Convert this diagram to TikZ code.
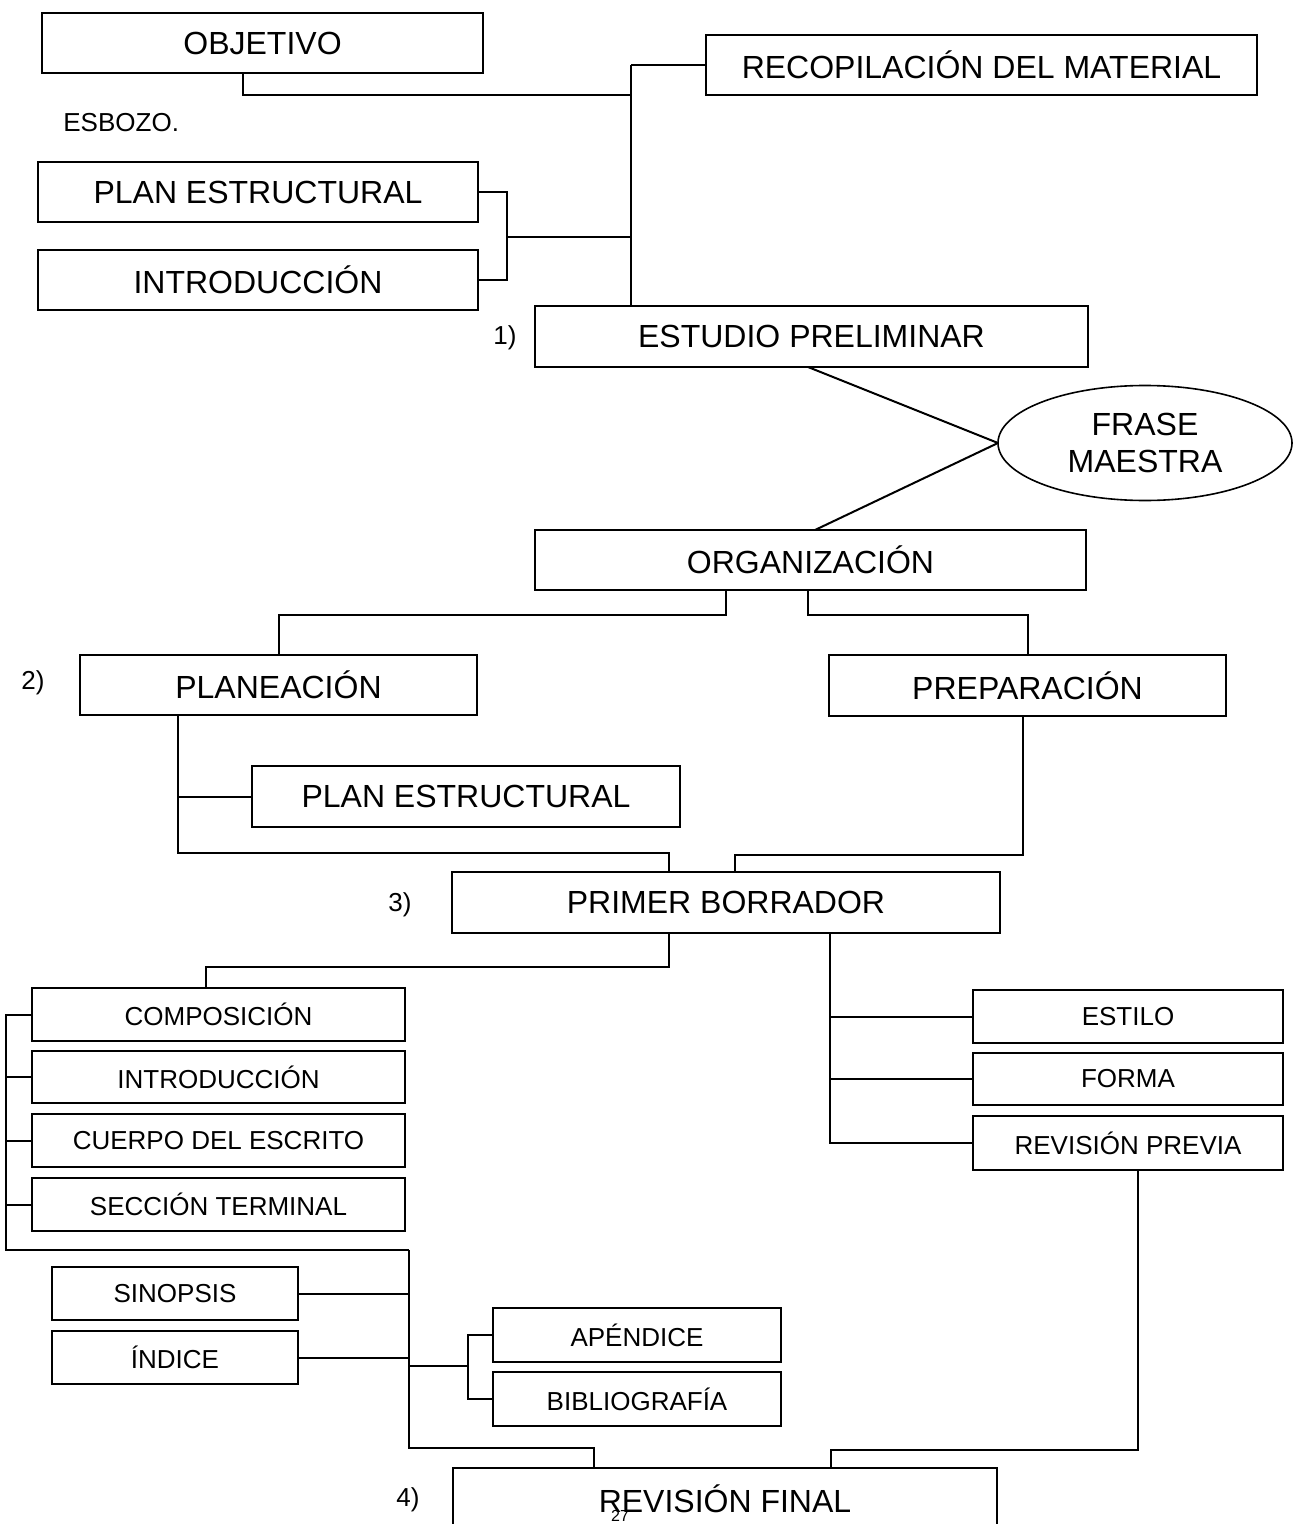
\documentclass[tikz,border=0pt]{standalone}
\usepackage{fontspec}
\setmainfont{Liberation Sans}
\usetikzlibrary{shapes.geometric,calc}
\tikzset{
  sz/.style 2 args={minimum width={#1*0.5pt}, minimum height={#2*0.5pt}},
  bigbox/.style={draw, rectangle, line width=1pt, inner sep=0pt, outer sep=0pt, font=\fontsize{16}{19}\selectfont},
  smallbox/.style={draw, rectangle, line width=1pt, inner sep=0pt, outer sep=0pt, font=\fontsize{13}{15}\selectfont},
  lbl/.style={inner sep=0pt, font=\fontsize{13}{15}\selectfont},
  conn/.style={line width=1pt},
}
\begin{document}
\begin{tikzpicture}[x=0.5pt,y=-0.5pt]
\useasboundingbox (0,0) rectangle (1294,1524);
% column helper coordinates
\foreach \xx in {6,178,206,243,409,468,507,594,631,669,726,735,808,815,830,831,1023,1138}
  {\coordinate (c\xx) at (\xx,0);}

% top part
\node[bigbox, sz={441}{60}] (obj) at (262.5,43) {OBJETIVO};
\node[bigbox, sz={551}{60}] (recop) at (981.5,65) {RECOPILACIÓN DEL MATERIAL};
\node[lbl, anchor=west] (esbozo) at (63,123) {ESBOZO.};
\node[bigbox, sz={440}{60}] (plan1) at (258,192) {PLAN ESTRUCTURAL};
\node[bigbox, sz={440}{60}] (intro1) at (258,280) {INTRODUCCIÓN};
\node[bigbox, sz={553}{61}] (estudio) at (811.5,336.5) {ESTUDIO PRELIMINAR};
\node[lbl] (l1) at (505,338) {1)};
\node[draw, ellipse, line width=0.8pt, inner sep=0pt, outer sep=0pt, minimum width=147pt, minimum height=57.5pt, align=center, font=\fontsize{16}{18.5}\selectfont] (frase) at (1145,443) {FRASE\\MAESTRA};
\node[bigbox, sz={551}{60}] (org) at (810.5,560) {ORGANIZACIÓN};

% middle part
\node[bigbox, sz={397}{60}] (planea) at (278.5,685) {PLANEACIÓN};
\node[lbl] (l2) at (33,683) {2)};
\node[bigbox, sz={397}{61}] (prep) at (1027.5,685.5) {PREPARACIÓN};
\node[bigbox, sz={428}{61}] (plan2) at (466,796.5) {PLAN ESTRUCTURAL};
\node[bigbox, sz={548}{61}] (primer) at (726,902.5) {PRIMER BORRADOR};
\node[lbl] (l3) at (400,905) {3)};

% lower part
\node[smallbox, sz={373}{53}] (comp) at (218.5,1014.5) {COMPOSICIÓN};
\node[smallbox, sz={373}{52}] (intro2) at (218.5,1077) {INTRODUCCIÓN};
\node[smallbox, sz={373}{53}] (cuerpo) at (218.5,1140.5) {CUERPO DEL ESCRITO};
\node[smallbox, sz={373}{53}] (seccion) at (218.5,1204.5) {SECCIÓN TERMINAL};
\node[smallbox, sz={310}{53}] (estilo) at (1128,1016.5) {ESTILO};
\node[smallbox, sz={310}{52}] (forma) at (1128,1079) {FORMA};
\node[smallbox, sz={310}{54}] (revp) at (1128,1143) {REVISIÓN PREVIA};
\node[smallbox, sz={246}{53}] (sinop) at (175,1293.5) {SINOPSIS};
\node[smallbox, sz={246}{53}] (indice) at (175,1357.5) {ÍNDICE};
\node[smallbox, sz={288}{54}] (apend) at (637,1335) {APÉNDICE};
\node[smallbox, sz={288}{54}] (biblio) at (637,1399) {BIBLIOGRAFÍA};
\node[bigbox, sz={544}{62}] (revf) at (725,1499) {REVISIÓN FINAL};
\node[lbl] (l4) at (408,1500) {4)};
\node[inner sep=0pt, font=\fontsize{8}{9}\selectfont] (pg) at (620,1516) {27};

% junctions
\coordinate (jobj) at (631,95);
\coordinate (jtop) at (631,65);
\coordinate (jpi) at (507,237);
\coordinate (j853) at (669,853);
\coordinate (j855) at (735,855);
\coordinate (j967) at (206,967);
\coordinate (jLb) at (6,1250);
\coordinate (jLr) at (409,1250);
\coordinate (jSI) at (409,1366);
\coordinate (jAB) at (468,1366);
\coordinate (j1448) at (594,1448);
\coordinate (j1450) at (831,1450);

% connectors top
\draw[conn] (obj.south -| c243) |- (jobj);
\draw[conn] (jtop) -- (recop.west);
\draw[conn] (jtop) -- (estudio.north -| c631);
\draw[conn] (plan1.east) -| (jpi);
\draw[conn] (intro1.east) -| (jpi);
\draw[conn] (jpi) -- (jpi -| c631);
\draw[conn] (estudio.south -| c808) -- (frase.west);
\draw[conn] (frase.west) -- (org.north -| c815);

% connectors middle
\draw[conn] (org.south -| c726) |- ($(planea.north)+(0,-40)$) -- (planea.north);
\draw[conn] (org.south -| c808) |- ($(prep.north)+(0,-40)$) -- (prep.north);
\draw[conn] (planea.south -| c178) |- (plan2.west);
\draw[conn] (planea.south -| c178) |- (j853) -- (primer.north -| c669);
\draw[conn] (prep.south -| c1023) |- (j855) -- (primer.north -| c735);

% connectors lower
\draw[conn] (primer.south -| c669) |- (j967) -- (comp.north -| c206);
\draw[conn] (primer.south -| c830) |- (estilo.west);
\draw[conn] (primer.south -| c830) |- (forma.west);
\draw[conn] (primer.south -| c830) |- (revp.west);
\draw[conn] (comp.west) -| (jLb) -- (jLr);
\draw[conn] (intro2.west) -- (intro2.west -| c6);
\draw[conn] (cuerpo.west) -- (cuerpo.west -| c6);
\draw[conn] (seccion.west) -- (seccion.west -| c6);
\draw[conn] (jLr) |- (j1448) -- (revf.north -| c594);
\draw[conn] (sinop.east) -- (sinop.east -| c409);
\draw[conn] (indice.east) -- (indice.east -| c409);
\draw[conn] (apend.west) -| (jAB);
\draw[conn] (biblio.west) -| (jAB);
\draw[conn] (jAB) -- (jSI);
\draw[conn] (revp.south -| c1138) |- (j1450) -- (revf.north -| c831);
\end{tikzpicture}
\end{document}
